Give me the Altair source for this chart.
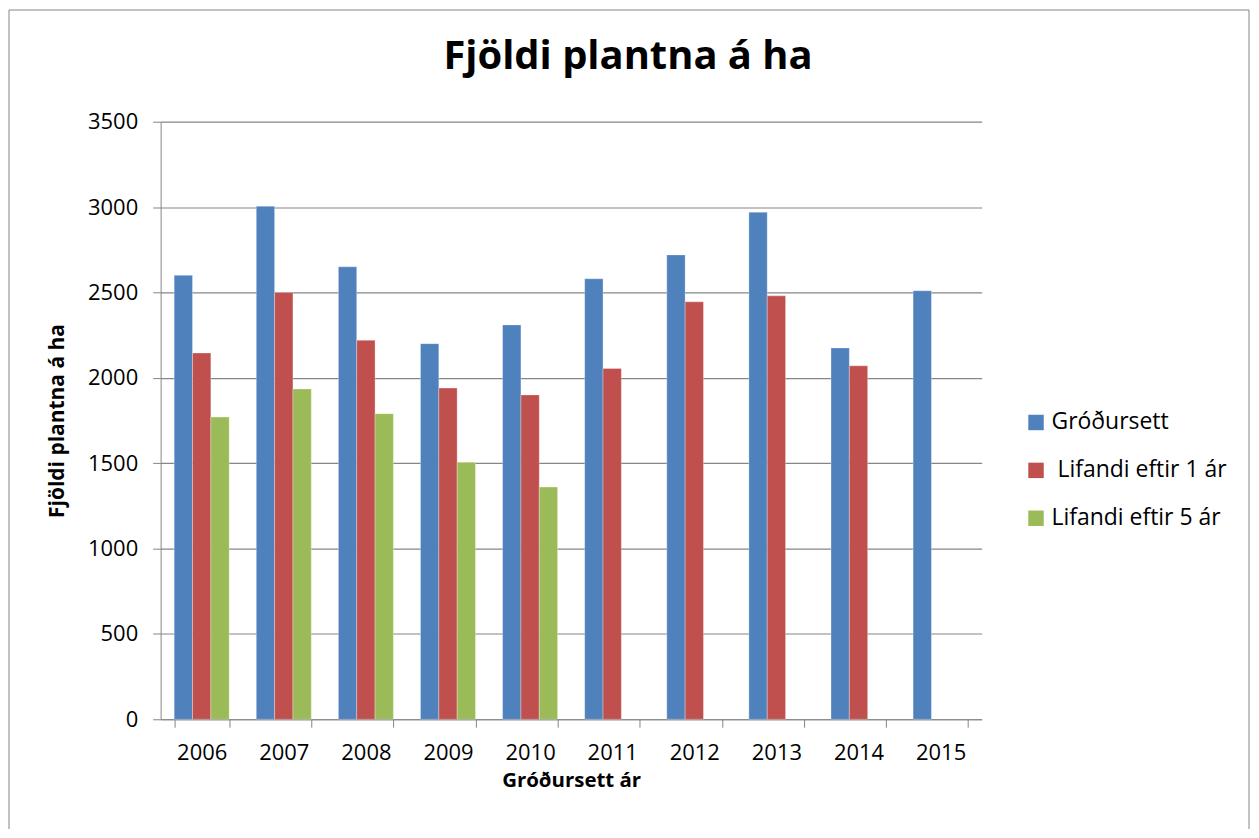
import altair as alt
import pandas as pd

years = ["2006", "2007", "2008", "2009", "2010", "2011", "2012", "2013", "2014", "2015"]
series = ["Gróðursett", "\u200b Lifandi eftir 1 ár", "Lifandi eftir 5 ár"]
grodursett = [2600, 3005, 2650, 2200, 2310, 2580, 2720, 2970, 2175, 2510]
lifandi_1 = [2145, 2500, 2220, 1940, 1900, 2055, 2445, 2480, 2070, None]
lifandi_5 = [1770, 1935, 1790, 1505, 1360, None, None, None, None, None]
colors = ["#4F81BD", "#C0504D", "#9BBB59"]
y_ticks = [0, 500, 1000, 1500, 2000, 2500, 3000, 3500]

rows = []
for i, yr in enumerate(years):
    for s, vals in zip(series, [grodursett, lifandi_1, lifandi_5]):
        if vals[i] is not None:
            rows.append({"year": yr, "series": s, "value": vals[i]})
df = pd.DataFrame(rows)

FONT = "Open Sans"
GRAY = "#868686"
W, H = 823, 599

bars = alt.Chart(df).mark_bar(stroke="white", strokeWidth=0.6, strokeOpacity=0.5).encode(
    x=alt.X("year:N", sort=years,
            scale=alt.Scale(paddingInner=0.33, paddingOuter=0.165),
            axis=alt.Axis(title="Gróðursett ár", labelAngle=0, tickBand="extent",
                          domainColor=GRAY, tickColor=GRAY, tickSize=8,
                          labelFontSize=22, labelFont=FONT, labelColor="black",
                          labelPadding=15, titleFontSize=20.5, titleFont=FONT,
                          titleFontWeight="bold", titleColor="black", titlePadding=7,
                          grid=False)),
    xOffset=alt.XOffset("series:N", sort=series,
                        scale=alt.Scale(domain=series, paddingInner=0, paddingOuter=0)),
    y=alt.Y("value:Q", scale=alt.Scale(domain=[0, 3500], nice=False),
            axis=alt.Axis(title="Fjöldi plantna á ha", values=y_ticks, format="d",
                          domainColor=GRAY, tickColor=GRAY, tickSize=8,
                          gridColor=GRAY, gridWidth=1.2,
                          labelFontSize=22, labelFont=FONT, labelColor="black",
                          labelPadding=15, titleFontSize=21, titleFont=FONT,
                          titleFontWeight="bold", titleColor="black", titlePadding=20)),
    color=alt.Color("series:N", sort=series,
                    scale=alt.Scale(domain=series, range=colors),
                    legend=alt.Legend(title=None, orient="none", legendX=866, legendY=290,
                                      symbolType="square", symbolSize=240,
                                      symbolStrokeWidth=0, labelFontSize=23,
                                      labelFont=FONT, labelColor="black", labelLimit=400,
                                      labelOffset=4, rowPadding=24)),
)

frame = alt.Chart(pd.DataFrame({"a": [0]})).mark_rect(
    fillOpacity=0, stroke=GRAY, strokeWidth=1
).encode(x=alt.value(-152), x2=alt.value(1091), y=alt.value(-112), y2=alt.value(760))

chart = alt.layer(frame, bars).properties(
    width=W, height=H,
    title=alt.TitleParams("Fjöldi plantna á ha", fontSize=40, font=FONT, fontWeight="bold",
                          color="black", anchor="middle", dx=57, offset=0, dy=68),
    autosize=alt.AutoSizeParams(type="none"),
    padding={"left": 153, "top": 113, "right": 270, "bottom": 109},
).configure_view(stroke=None)

chart.save("out.html", embed_options={"renderer": "svg", "actions": False})
